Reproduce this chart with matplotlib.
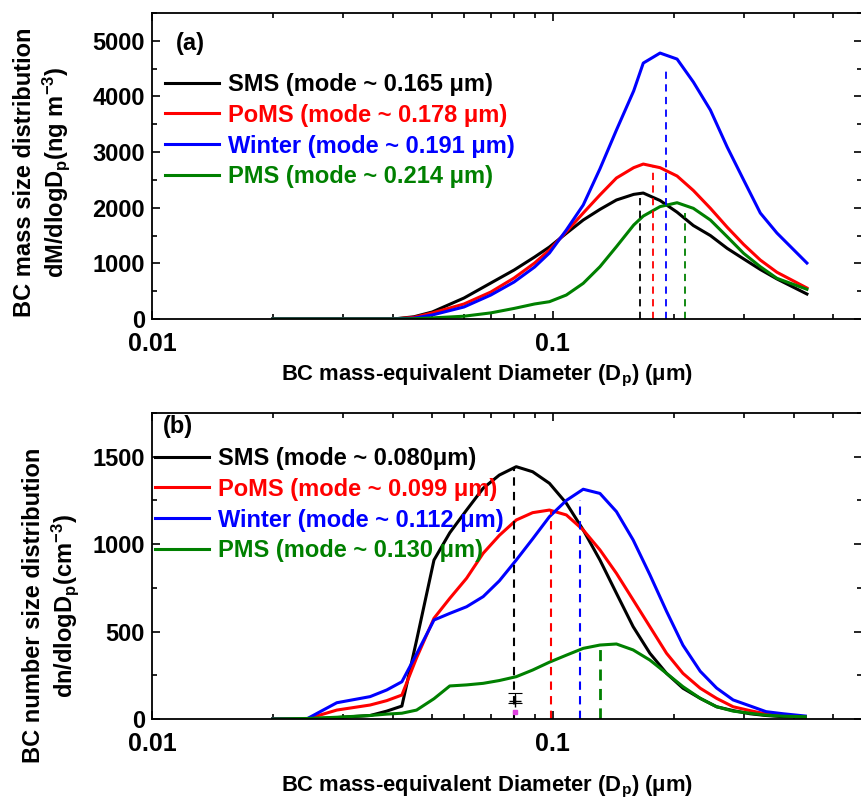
import matplotlib
matplotlib.use("Agg")
import matplotlib.pyplot as plt
from matplotlib.ticker import LogLocator, FixedLocator, MultipleLocator, FixedFormatter

plt.rcParams['font.family'] = ['Liberation Sans', 'DejaVu Sans']
plt.rcParams['font.weight'] = 'bold'
plt.rcParams['axes.labelweight'] = 'bold'
plt.rcParams['mathtext.fontset'] = 'custom'
plt.rcParams['mathtext.rm'] = 'Liberation Sans:bold'
plt.rcParams['mathtext.bf'] = 'Liberation Sans:bold'
plt.rcParams['mathtext.it'] = 'Liberation Sans:bold'
plt.rcParams['mathtext.default'] = 'bf'

# ---- panel (a): mass size distribution ----
d_mass = [0.02, 0.03, 0.04, 0.045, 0.05, 0.06, 0.07, 0.08, 0.09, 0.098, 0.108, 0.119,
          0.131, 0.144, 0.159, 0.168, 0.185, 0.204, 0.224, 0.247, 0.272, 0.299, 0.329, 0.362, 0.43]
sms_mass = [0, 0, 0, 40, 126, 377, 647, 880, 1114, 1294, 1540, 1779,
            1970, 2139, 2240, 2264, 2130, 1920, 1680, 1500, 1270, 1080, 890, 720, 449]
poms_mass = [0, 0, 0, 30, 108, 270, 485, 737, 1006, 1240, 1570, 1905,
             2230, 2534, 2720, 2785, 2720, 2570, 2310, 1990, 1650, 1340, 1060, 840, 557]
winter_mass = [0, 0, 0, 15, 72, 216, 431, 665, 934, 1186, 1600, 2049,
               2700, 3396, 4100, 4600, 4780, 4672, 4259, 3756, 3091, 2498, 1905, 1545, 1006]
pms_mass = [0, 0, 0, 5, 20, 50, 110, 190, 270, 311, 431, 641,
            940, 1300, 1689, 1850, 2020, 2090, 1989, 1779, 1479, 1180, 940, 731, 534]
mass_modes = [0.165, 0.178, 0.191, 0.214]
mass_drop = [2192, 2767, 4528, 1905]
mass_labels = ['SMS (mode ~ 0.165 \u03bcm)', 'PoMS (mode ~ 0.178 \u03bcm)',
               'Winter (mode ~ 0.191 \u03bcm)', 'PMS (mode ~ 0.214 \u03bcm)']

# ---- panel (b): number size distribution ----
d_num = [0.020, 0.0243, 0.0289, 0.035, 0.0385, 0.042, 0.0457, 0.0505, 0.0553, 0.0609, 0.067,
         0.0735, 0.081, 0.089, 0.098, 0.108, 0.119, 0.131, 0.144, 0.1585, 0.1745, 0.192, 0.211,
         0.233, 0.256, 0.2815, 0.31, 0.34, 0.375, 0.426]
sms_num = [0, 0, 8, 20, 45, 74, 450, 909, 1065, 1195, 1320, 1395, 1443, 1414, 1348, 1234,
           1081, 909, 719, 528, 376, 261, 176, 118, 70, 48, 30, 20, 13, 10]
poms_num = [0, 0, 51, 80, 105, 137, 350, 576, 690, 805, 948, 1050, 1138, 1180, 1195, 1167,
            1081, 967, 833, 681, 528, 376, 261, 176, 118, 70, 48, 29, 20, 13]
winter_num = [0, 0, 93, 128, 166, 213, 372, 566, 604, 642, 700, 790, 909, 1030, 1157, 1250,
              1314, 1290, 1186, 1024, 825, 616, 422, 273, 177, 109, 75, 42, 30, 17]
pms_num = [0, 3, 10, 20, 28, 33, 51, 116, 189, 195, 204, 220, 242, 280, 325, 365,
           404, 423, 429, 395, 337, 261, 185, 118, 70, 45, 33, 22, 16, 13]
num_modes = [0.080, 0.099, 0.117, 0.131]
num_drop = [1436, 1195, 1252, 406]
num_labels = ['SMS (mode ~ 0.080\u03bcm)', 'PoMS (mode ~ 0.099 \u03bcm)',
              'Winter (mode ~ 0.112 \u03bcm)', 'PMS (mode ~ 0.130 \u03bcm)']

err_x = 0.0805
err_y = 105
err_lo = 15
err_hi = 45
pt_y = 40

colors = ['black', '#ff0000', '#0000ff', '#008000']

fig = plt.figure(figsize=(8.61, 8.05), dpi=100)
ax1 = fig.add_axes([152 / 861, 1 - 319 / 805, 710 / 861, 306 / 805])
ax2 = fig.add_axes([152 / 861, 1 - 719 / 805, 710 / 861, 306 / 805])


def style_axis(ax, ymax, major, minor):
    ax.set_xscale('log')
    ax.set_xlim(0.01, 0.59)
    ax.set_ylim(0, ymax)
    ax.xaxis.set_major_locator(FixedLocator([0.01, 0.1]))
    ax.xaxis.set_major_formatter(FixedFormatter(['0.01', '0.1']))
    ax.xaxis.set_minor_locator(LogLocator(base=10, subs=range(2, 10)))
    ax.xaxis.set_minor_formatter(plt.NullFormatter())
    ax.yaxis.set_major_locator(MultipleLocator(major))
    ax.yaxis.set_minor_locator(MultipleLocator(minor))
    ax.tick_params(which='both', direction='in', top=True, right=True, width=1.2)
    ax.tick_params(which='major', length=6)
    ax.tick_params(which='minor', length=3.5)
    ax.tick_params(axis='x', which='major', labelsize=18, pad=9)
    ax.tick_params(axis='y', which='major', labelsize=17, pad=5)
    for s in ax.spines.values():
        s.set_linewidth(1.3)


leg_kw = dict(loc='upper left', frameon=False, prop={'size': 17, 'weight': 'bold'},
              labelcolor='linecolor', handlelength=2.3, handletextpad=0.35,
              labelspacing=0.33, borderaxespad=0)
xlab = 'BC mass-equivalent Diameter (D$_p$) (\u03bcm)'

# panel (a)
for ys, c, lab in zip([sms_mass, poms_mass, winter_mass, pms_mass], colors, mass_labels):
    ax1.plot(d_mass, ys, color=c, lw=2.2, label=lab)
for m, h, c in zip(mass_modes, mass_drop, colors):
    ax1.vlines(m, 0, h, colors=c, linestyles=(0, (4, 3)), lw=1.3)
style_axis(ax1, 5500, 1000, 500)
ax1.legend(bbox_to_anchor=(0.005, 0.835), **leg_kw)
ax1.text(0.033, 0.879, '(a)', transform=ax1.transAxes, fontsize=17, fontweight='bold')
ax1.set_xlabel(xlab, fontsize=15.8)
ax1.xaxis.set_label_coords(0.472, -0.145, transform=ax1.transAxes)
ax1.xaxis.label.set_va('top')
ax1.set_ylabel('BC mass size distribution\ndM/dlogD$_p$(ng m$^{-3}$)', fontsize=17)
ax1.yaxis.set_label_coords(-0.113, 0.48)

# panel (b)
for ys, c, lab in zip([sms_num, poms_num, winter_num, pms_num], colors, num_labels):
    ax2.plot(d_num, ys, color=c, lw=2.2, label=lab)
for m, h, c in zip(num_modes, num_drop, colors):
    ax2.vlines(m, 0, h, colors=c, linestyles=(0, (4, 3)), lw=2.0 if c == '#008000' else 1.5)
ax2.errorbar([err_x], [err_y], yerr=[[err_lo], [err_hi]], fmt='+', color='black',
             ms=8, lw=0.8, capsize=5, capthick=0.8)
ax2.plot([err_x], [pt_y], 's', color='#e040e0', ms=3)
style_axis(ax2, 1750, 500, 250)
ax2.legend(bbox_to_anchor=(-0.009, 0.92), **leg_kw)
ax2.text(0.0155, 0.935, '(b)', transform=ax2.transAxes, fontsize=17, fontweight='bold')
ax2.set_xlabel(xlab, fontsize=15.8)
ax2.xaxis.set_label_coords(0.472, -0.18, transform=ax2.transAxes)
ax2.xaxis.label.set_va('top')
ax2.set_ylabel('BC number size distribution\ndn/dlogD$_p$(cm$^{-3}$)', fontsize=17)
ax2.yaxis.set_label_coords(-0.10, 0.37)

fig.savefig('out.png', dpi=100)
